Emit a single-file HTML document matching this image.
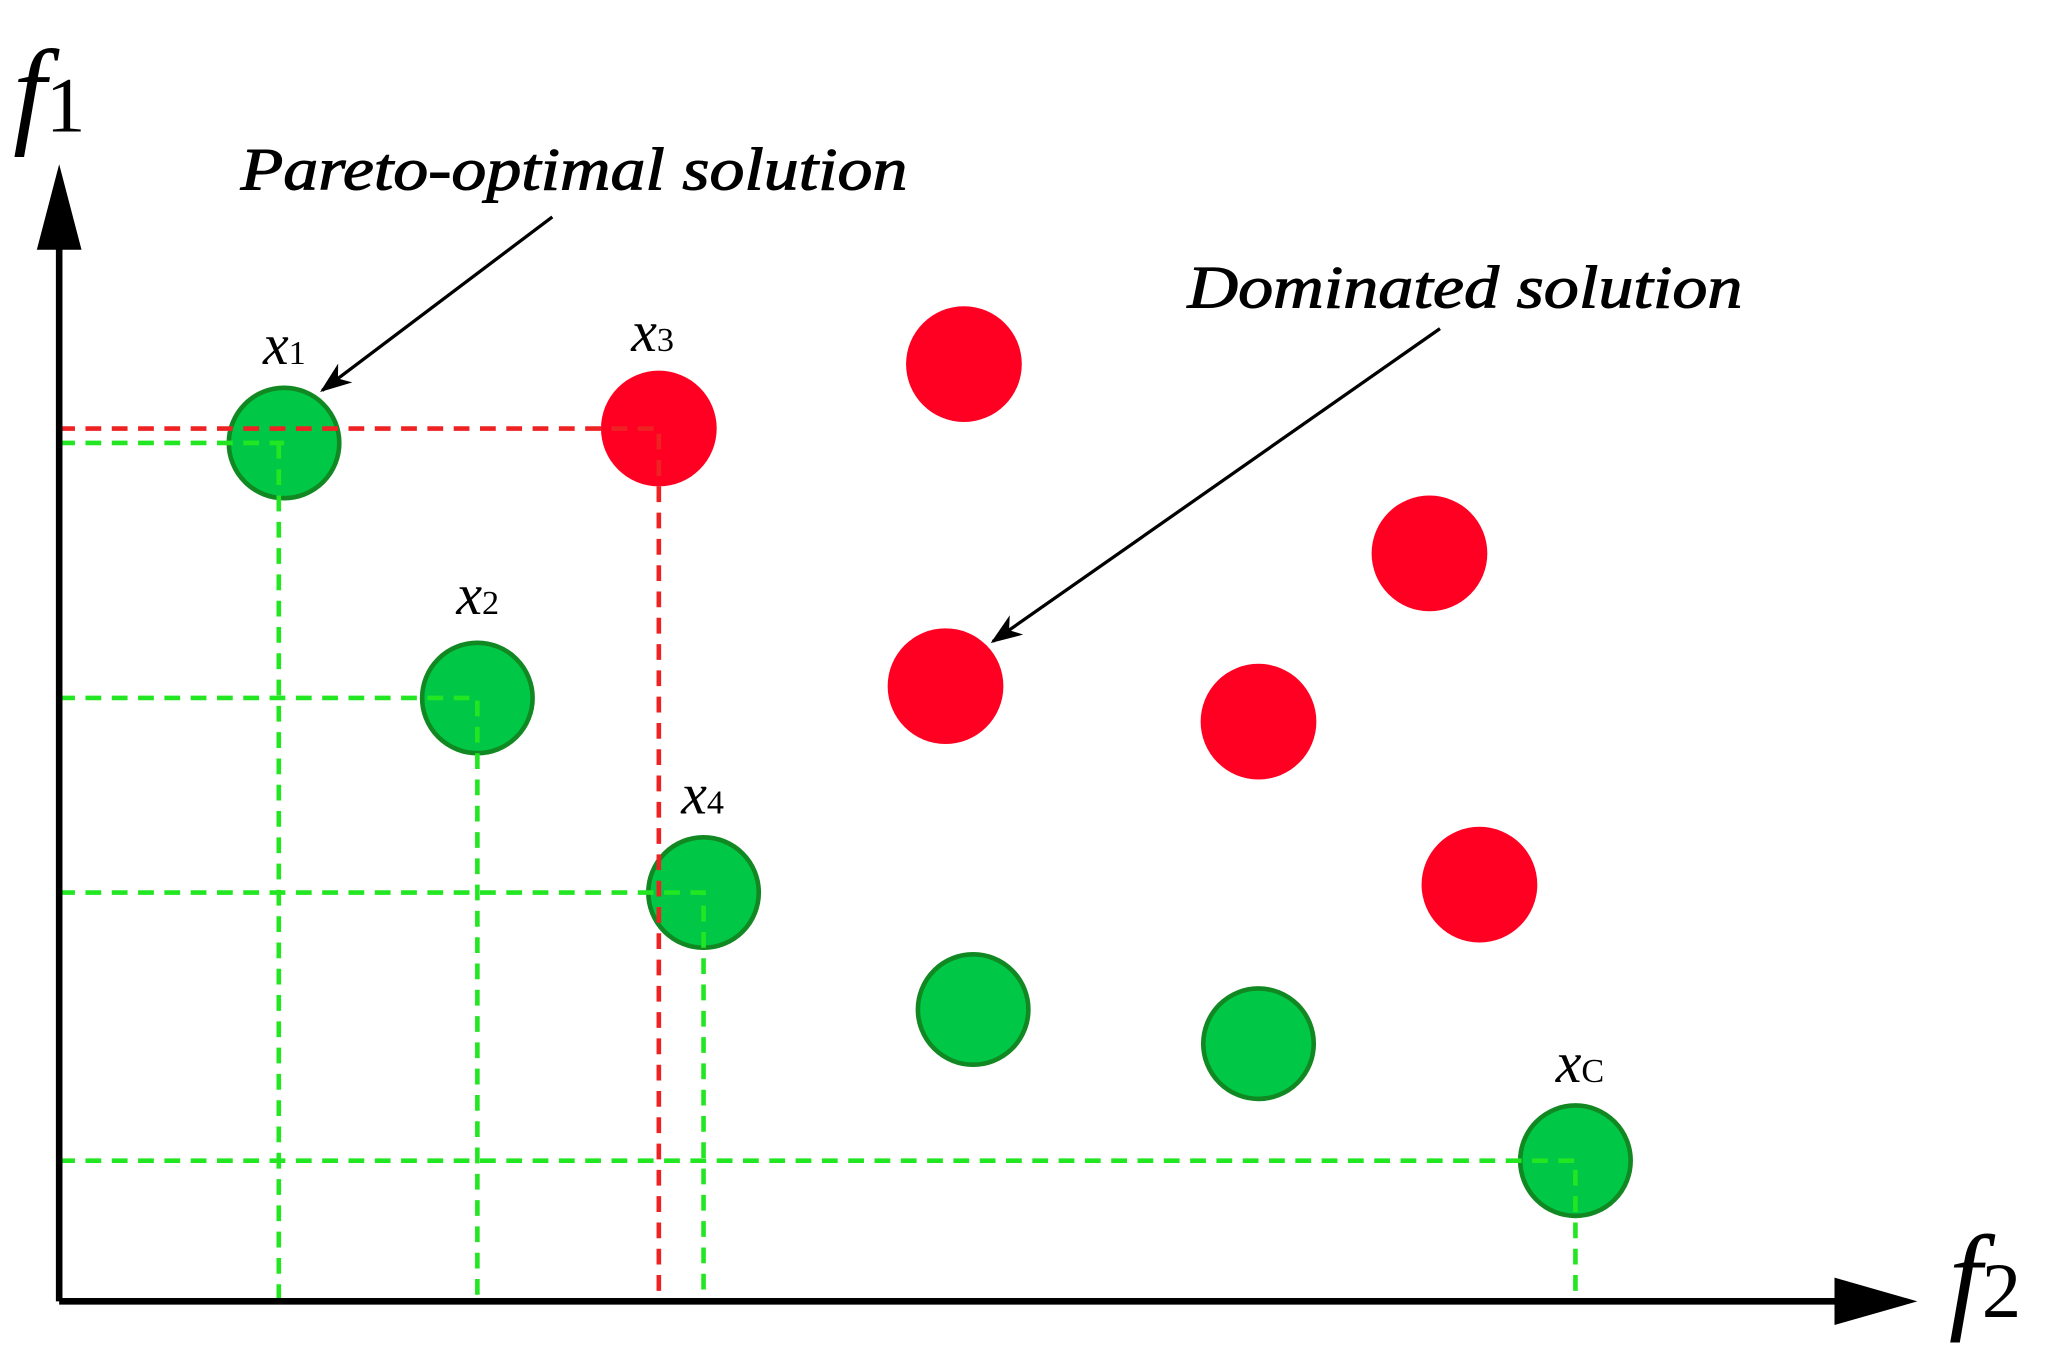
<!DOCTYPE html>
<html><head><meta charset="utf-8"><style>html,body{margin:0;padding:0;background:#fff;}svg{display:block}</style></head>
<body>
<svg width="2062" height="1371" viewBox="0 0 1568 1043" preserveAspectRatio="none" xmlns="http://www.w3.org/2000/svg">
<defs>
<marker id="ah" markerWidth="24" markerHeight="18" refX="22" refY="9" orient="auto" markerUnits="userSpaceOnUse" viewBox="0 0 24 18">
<path d="M0,0 L24,9 L0,18 L7,9 Z" fill="#000"/>
</marker>
</defs>
<g fill="#00c846" stroke="#118822" stroke-width="3.5">
<circle cx="216" cy="337" r="42"/>
<circle cx="363" cy="531" r="42"/>
<circle cx="535" cy="679" r="42"/>
<circle cx="740" cy="768" r="42"/>
<circle cx="957" cy="794" r="42"/>
<circle cx="1198" cy="883" r="42"/>
</g>
<g fill="#ff0022">
<circle cx="501" cy="326" r="44"/>
<circle cx="733" cy="277" r="44"/>
<circle cx="1087" cy="421" r="44"/>
<circle cx="719" cy="522" r="44"/>
<circle cx="957" cy="549" r="44"/>
<circle cx="1125" cy="673" r="44"/>
</g>
<g stroke-width="3.5" stroke-dasharray="12,8" fill="none">
<path d="M45,326 H501 V990" stroke="#ee2222"/>
<path d="M45,337 H216 M212,337 V990" stroke="#22e622"/>
<path d="M45,531 H363 V990" stroke="#22e622"/>
<path d="M45,679 H535 V990" stroke="#22e622"/>
<path d="M45,883 H1198 V990" stroke="#22e622"/>
</g>
<!-- axes -->
<path d="M45,990 V180 M45,990 H1405" stroke="#000" stroke-width="5" fill="none"/>
<path d="M45,125 L62,190 L28,190 Z" fill="#000"/>
<path d="M1458,990 L1395,972 L1395,1008 Z" fill="#000"/>
<!-- arrows -->
<line x1="420" y1="165" x2="245" y2="297" stroke="#000" stroke-width="2.5" marker-end="url(#ah)"/>
<line x1="1095" y1="250" x2="755" y2="488" stroke="#000" stroke-width="2.5" marker-end="url(#ah)"/>
<g font-family="Liberation Serif, serif" font-style="italic" fill="#000">
<text x="10" y="100" font-size="90">f<tspan font-style="normal" font-size="60">1</tspan></text>
<text x="1482" y="1002" font-size="90">f<tspan font-style="normal" font-size="60">2</tspan></text>
<text x="183" y="144" font-size="46" stroke="#000" stroke-width="0.8" textLength="507" lengthAdjust="spacingAndGlyphs">Pareto-optimal solution</text>
<text x="903" y="234" font-size="46" stroke="#000" stroke-width="0.8" textLength="422" lengthAdjust="spacingAndGlyphs">Dominated solution</text>
<text x="200" y="277" font-size="44">x<tspan font-style="normal" font-size="26">1</tspan></text>
<text x="480" y="267" font-size="44">x<tspan font-style="normal" font-size="26">3</tspan></text>
<text x="347" y="467" font-size="44">x<tspan font-style="normal" font-size="26">2</tspan></text>
<text x="518" y="619" font-size="44">x<tspan font-style="normal" font-size="26">4</tspan></text>
<text x="1183" y="823" font-size="44">x<tspan font-style="normal" font-size="26">C</tspan></text>
</g>
</svg>
</body></html>
